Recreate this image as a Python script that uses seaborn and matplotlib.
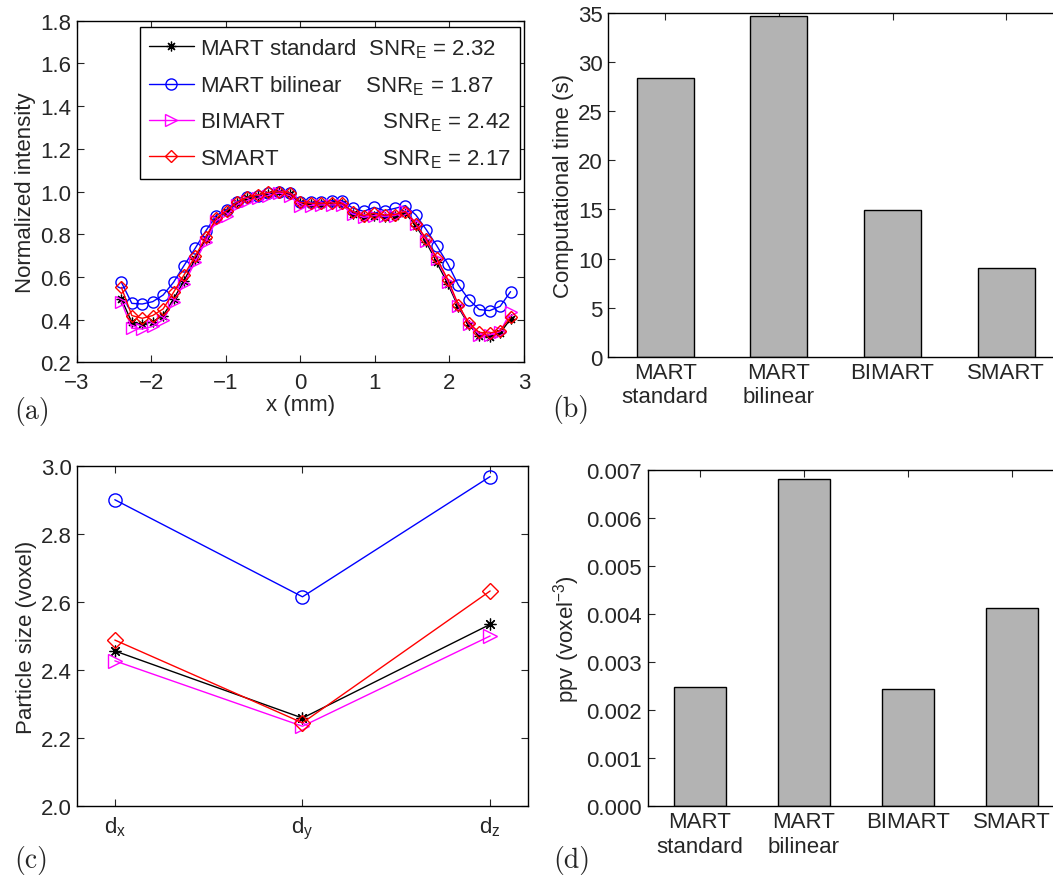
import seaborn as sns
import matplotlib.pyplot as plt
from matplotlib.ticker import FormatStrFormatter

# (a) intensity profiles along x
x_mm = [-2.40, -2.26, -2.12, -1.98, -1.84, -1.70, -1.56, -1.41, -1.27, -1.13,
        -0.99, -0.85, -0.71, -0.57, -0.43, -0.28, -0.14, 0.00, 0.14, 0.28,
        0.42, 0.56, 0.70, 0.85, 0.99, 1.13, 1.27, 1.41, 1.55, 1.69,
        1.83, 1.98, 2.12, 2.26, 2.40, 2.54, 2.68, 2.82]
mart_std = [0.496, 0.387, 0.379, 0.390, 0.419, 0.496, 0.582, 0.684, 0.778, 0.871,
            0.906, 0.946, 0.968, 0.977, 0.988, 0.996, 0.988, 0.945, 0.942, 0.942,
            0.945, 0.942, 0.895, 0.879, 0.887, 0.882, 0.884, 0.898, 0.840, 0.762,
            0.668, 0.567, 0.458, 0.375, 0.325, 0.317, 0.337, 0.403]
mart_bil = [0.575, 0.476, 0.473, 0.484, 0.515, 0.575, 0.653, 0.734, 0.814, 0.887,
            0.915, 0.953, 0.973, 0.981, 0.993, 0.999, 0.993, 0.953, 0.949, 0.953,
            0.957, 0.957, 0.923, 0.907, 0.926, 0.910, 0.921, 0.934, 0.890, 0.821,
            0.746, 0.660, 0.562, 0.494, 0.447, 0.442, 0.462, 0.531]
bimart = [0.484, 0.359, 0.356, 0.368, 0.400, 0.484, 0.567, 0.671, 0.765, 0.863,
          0.887, 0.937, 0.957, 0.968, 0.981, 0.993, 0.981, 0.931, 0.934, 0.937,
          0.937, 0.937, 0.895, 0.879, 0.887, 0.884, 0.887, 0.910, 0.848, 0.770,
          0.684, 0.578, 0.465, 0.380, 0.330, 0.328, 0.344, 0.434]
smart = [0.551, 0.419, 0.406, 0.419, 0.450, 0.528, 0.609, 0.696, 0.785, 0.874,
         0.910, 0.949, 0.973, 0.984, 0.996, 0.999, 0.993, 0.949, 0.945, 0.945,
         0.946, 0.945, 0.906, 0.887, 0.898, 0.890, 0.892, 0.906, 0.848, 0.778,
         0.687, 0.587, 0.469, 0.384, 0.340, 0.337, 0.348, 0.411]
snr = ["2.32", "1.87", "2.42", "2.17"]

# (b) and (d) bar data
methods = ["MART\nstandard", "MART\nbilinear", "BIMART", "SMART"]
comp_time = [28.4, 34.7, 14.9, 9.0]
ppv = [0.00248, 0.00681, 0.00244, 0.00412]

# (c) particle size
dims = [r"d$_\mathrm{x}$", r"d$_\mathrm{y}$", r"d$_\mathrm{z}$"]
size_std = [2.456, 2.259, 2.534]
size_bil = [2.900, 2.615, 2.968]
size_bim = [2.427, 2.235, 2.500]
size_smart = [2.488, 2.245, 2.632]

sns.set_style("ticks")
plt.rcParams['font.family'] = ['Liberation Sans', 'DejaVu Sans']
plt.rcParams['mathtext.fontset'] = 'custom'
plt.rcParams['mathtext.rm'] = 'Liberation Sans'
plt.rcParams['mathtext.it'] = 'Liberation Sans:italic'
plt.rcParams['font.size'] = 16
plt.rcParams['axes.linewidth'] = 1.0
FS = 16

styles = [
    dict(color='k', marker=(8, 2, 0), ms=7, mec='k', mfc='k', mew=0.9),
    dict(color='#0000ff', marker='o', ms=8, mec='#0000ff', mfc='none', mew=1.0),
    dict(color='#ff00ff', marker='>', ms=8, mec='#ff00ff', mfc='none', mew=1.0),
    dict(color='#ff0000', marker='D', ms=6.5, mec='#ff0000', mfc='none', mew=1.0),
]
names = ["MART standard", "MART bilinear", "BIMART", "SMART"]
pads = ["  ", "    ", "                ", "                 "]

fig = plt.figure(figsize=(10.53, 8.79), dpi=100)
ax_a = fig.add_axes([0.0728, 0.5867, 0.4248, 0.3886])
ax_b = fig.add_axes([0.5777, 0.5931, 0.4319, 0.3907])
ax_c = fig.add_axes([0.0734, 0.0816, 0.4277, 0.3875])
ax_d = fig.add_axes([0.6151, 0.0822, 0.3951, 0.3819])


def style_axes(ax):
    ax.tick_params(direction='in', top=True, right=True, length=5, width=0.8,
                   labelsize=FS, pad=4)
    for s in ax.spines.values():
        s.set_visible(True)
        s.set_linewidth(1.0)
        s.set_color('k')


# (a)
for ys, st, nm, pd_, sv in zip([mart_std, mart_bil, bimart, smart], styles, names, pads, snr):
    sns.lineplot(x=x_mm, y=ys, ax=ax_a, lw=1.0, label=f"{nm}{pd_}SNR$_\\mathrm{{E}}$ = {sv}", **st)
ax_a.set_xlim(-3, 3)
ax_a.set_ylim(0.2, 1.8)
ax_a.set_xticks([-3, -2, -1, 0, 1, 2, 3])
ax_a.set_yticks([0.2, 0.4, 0.6, 0.8, 1.0, 1.2, 1.4, 1.6, 1.8])
ax_a.yaxis.set_major_formatter(FormatStrFormatter('%.1f'))
ax_a.set_xlabel("x (mm)", fontsize=FS, labelpad=1)
ax_a.set_ylabel("Normalized intensity", fontsize=FS, labelpad=3)
leg = ax_a.legend(loc='upper right', bbox_to_anchor=(0.991, 0.981), fontsize=FS,
                  frameon=True, fancybox=False, edgecolor='k', framealpha=1,
                  handlelength=2.0, handletextpad=0.3, labelspacing=0.62,
                  borderpad=0.4, borderaxespad=0)
leg.get_frame().set_linewidth(1.0)
style_axes(ax_a)
ax_a.tick_params(axis='x', pad=7)

# (b)
sns.barplot(x=methods, y=comp_time, ax=ax_b, color='#b3b3b3', saturation=1,
            edgecolor='k', linewidth=1.0, width=0.5)
ax_b.set_xlim(-0.5, 3.5)
ax_b.set_ylim(0, 35)
ax_b.set_yticks([0, 5, 10, 15, 20, 25, 30, 35])
ax_b.set_ylabel("Computational time (s)", fontsize=FS, labelpad=3)
style_axes(ax_b)

# (c)
for ys, st in zip([size_std, size_bil, size_bim, size_smart], styles):
    st2 = dict(st)
    st2['ms'] = st2['ms'] + 1.5
    sns.lineplot(x=dims, y=ys, ax=ax_c, lw=1.0, sort=False, **st2)
ax_c.set_xlim(-0.2, 2.2)
ax_c.set_ylim(2.0, 3.0)
ax_c.set_yticks([2.0, 2.2, 2.4, 2.6, 2.8, 3.0])
ax_c.yaxis.set_major_formatter(FormatStrFormatter('%.1f'))
ax_c.set_ylabel("Particle size (voxel)", fontsize=FS, labelpad=3)
ax_c.set_xlabel("")
style_axes(ax_c)
ax_c.tick_params(axis='x', pad=6)

# (d)
sns.barplot(x=methods, y=ppv, ax=ax_d, color='#b3b3b3', saturation=1,
            edgecolor='k', linewidth=1.0, width=0.5)
ax_d.set_xlim(-0.5, 3.5)
ax_d.set_ylim(0, 0.007)
ax_d.set_yticks([0, 0.001, 0.002, 0.003, 0.004, 0.005, 0.006, 0.007])
ax_d.yaxis.set_major_formatter(FormatStrFormatter('%.3f'))
ax_d.set_ylabel("ppv (voxel$^{-3}$)", fontsize=FS, labelpad=3)
style_axes(ax_d)

# panel letters
for lab, (px, py) in zip(["(a)", "(b)", "(c)", "(d)"],
                         [(32, 412), (571, 410), (31, 861), (572, 861)]):
    fig.text(px / 1053, 1 - py / 879, lab, fontsize=20, family='cmr10',
             ha='center', va='center')

fig.savefig("out.png", dpi=100)
